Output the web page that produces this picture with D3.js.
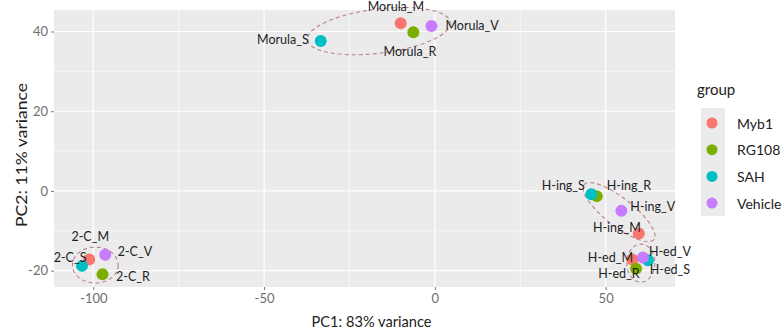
<!DOCTYPE html>
<html><head><meta charset="utf-8">
<script src="https://cdn.jsdelivr.net/npm/d3@7"></script>
<style>body{margin:0;background:#fff}svg{display:block}</style>
</head><body>
<svg id="c" width="782" height="335"></svg>
<script>
// ---- data ----
const groups = ["Myb1","RG108","SAH","Vehicle"];
const groupColors = ["#F8766D","#7CAE00","#00BFC4","#C77CFF"];
const sampleNames = ["Morula_M","Morula_R","Morula_S","Morula_V",
  "2-C_M","2-C_R","2-C_S","2-C_V",
  "H-ing_M","H-ing_R","H-ing_S","H-ing_V",
  "H-ed_M","H-ed_R","H-ed_S","H-ed_V"];
const sampleGroup = ["Myb1","RG108","SAH","Vehicle","Myb1","RG108","SAH","Vehicle",
  "Myb1","RG108","SAH","Vehicle","Myb1","RG108","SAH","Vehicle"];
const pc1 = [-10.0,-6.3,-33.4,-1.0, -101.2,-97.3,-103.3,-96.5, 59.7,47.4,45.8,54.6, 57.8,58.9,62.4,60.9];
const pc2 = [42.1,39.8,37.6,41.4, -17.2,-20.9,-18.8,-16.0, -10.7,-1.3,-0.8,-5.0, -17.2,-19.5,-17.4,-16.7];
// repelled label anchor positions (data units)
const labelPC1 = [-11.4,-7.3,-44.5,10.9, -100.9,-88.4,-106.8,-87.8, 53.3,56.8,37.6,63.8, 51.4,53.9,68.8,68.8];
const labelPC2 = [46.2,34.9,37.9,41.6, -11.5,-21.5,-16.6,-15.2, -9.1,1.3,1.3,-3.8, -16.6,-20.6,-19.8,-15.1];
// cluster ellipses: centre and conjugate semi-axis vectors (data units)
const ellipseNames = ["Morula","2-C","H-ing","H-ed"];
const ellipseCx = [-16.4,-99.4,53.9,60.3];
const ellipseCy = [40.1,-18.6,-5.3,-18.1];
const ellipseAx = [20.9,6.7,10.25,4.1];
const ellipseAy = [2.2,0,-6.87,0];
const ellipseBx = [0.8,0,-2.52,0];
const ellipseBy = [-5.5,-4.5,-2.76,-4.77];
const xTicks = [-100,-50,0,50];
const yTicks = [-20,0,20,40];
const xTitle = "PC1: 83% variance";
const yTitle = "PC2: 11% variance";
const legendTitle = "group";

// ---- layout ----
const svg = d3.select("#c");
const P = {l:54, r:675, t:10, b:287};
const x = d3.scaleLinear().domain([-111.5,70.3]).range([P.l,P.r]);
const y = d3.scaleLinear().domain([-24.1,45.4]).range([P.b,P.t]);
const color = d3.scaleOrdinal().domain(groups).range(groupColors);
const FONT = "Lato, 'Open Sans', sans-serif";

svg.append("rect").attr("x",P.l).attr("y",P.t).attr("width",P.r-P.l).attr("height",P.b-P.t).attr("fill","#EBEBEB");
const g = svg.append("g");
// minor grid
const xMinor = xTicks.slice(0,-1).map((d,i)=>(d+xTicks[i+1])/2);
const yMinor = yTicks.slice(0,-1).map((d,i)=>(d+yTicks[i+1])/2);
g.selectAll(".xm").data(xMinor).join("line").attr("x1",d=>x(d)).attr("x2",d=>x(d)).attr("y1",P.t).attr("y2",P.b).attr("stroke","#fff").attr("stroke-width",0.6);
g.selectAll(".ym").data(yMinor).join("line").attr("y1",d=>y(d)).attr("y2",d=>y(d)).attr("x1",P.l).attr("x2",P.r).attr("stroke","#fff").attr("stroke-width",0.6);
g.selectAll(".xg").data(xTicks).join("line").attr("x1",d=>x(d)).attr("x2",d=>x(d)).attr("y1",P.t).attr("y2",P.b).attr("stroke","#fff").attr("stroke-width",1.2);
g.selectAll(".yg").data(yTicks).join("line").attr("y1",d=>y(d)).attr("y2",d=>y(d)).attr("x1",P.l).attr("x2",P.r).attr("stroke","#fff").attr("stroke-width",1.2);

// axes
const xa = svg.append("g").attr("transform",`translate(0,${P.b})`).call(d3.axisBottom(x).tickValues(xTicks).tickSize(3).tickPadding(4).tickFormat(d3.format("d")));
const ya = svg.append("g").attr("transform",`translate(${P.l},0)`).call(d3.axisLeft(y).tickValues(yTicks).tickSize(3).tickPadding(3).tickFormat(d3.format("d")));
[xa,ya].forEach(a=>{a.select(".domain").remove();a.selectAll("line").attr("stroke","#7a7a7a");
  a.selectAll("text").attr("fill","#6e6e6e").attr("font-size",13).attr("font-family",FONT);});
xa.selectAll("text").text(d=>d<0?"-"+Math.abs(d):d);
ya.selectAll("text").text(d=>d<0?"-"+Math.abs(d):d);

// ellipses
const ts = d3.range(0,Math.PI*2+0.01,Math.PI/60);
ellipseNames.forEach((n,i)=>{
  const pts = ts.map(t=>[x(ellipseCx[i]+ellipseAx[i]*Math.cos(t)+ellipseBx[i]*Math.sin(t)),
                         y(ellipseCy[i]+ellipseAy[i]*Math.cos(t)+ellipseBy[i]*Math.sin(t))]);
  svg.append("path").attr("d",d3.line()(pts)+"Z").attr("fill","none").attr("stroke","#b9808c").attr("stroke-width",1.1).attr("stroke-dasharray","4,3");
});

// points
const idx = d3.range(sampleNames.length);
svg.selectAll(".pt").data(idx).join("circle").attr("cx",i=>x(pc1[i])).attr("cy",i=>y(pc2[i])).attr("r",6).attr("fill",i=>color(sampleGroup[i]));
// labels
svg.selectAll(".lb").data(idx).join("text").attr("x",i=>x(labelPC1[i])).attr("y",i=>y(labelPC2[i]))
  .attr("text-anchor","middle").attr("dominant-baseline","central").attr("font-family",FONT).attr("font-size",12.5).attr("fill","#1e1e1e").text(i=>sampleNames[i]);

// axis titles
svg.append("text").attr("x",(P.l+P.r)/2+7).attr("y",327).attr("text-anchor","middle").attr("font-family",FONT).attr("font-size",15).attr("fill","#222")
  .attr("textLength",120).attr("lengthAdjust","spacingAndGlyphs").text(xTitle);
svg.append("text").attr("transform","translate(27,155) rotate(-90)").attr("text-anchor","middle").attr("font-family",FONT).attr("font-size",15).attr("fill","#222")
  .attr("textLength",144).attr("lengthAdjust","spacingAndGlyphs").text(yTitle);

// legend
const L = svg.append("g");
L.append("text").attr("x",697).attr("y",95).attr("font-family",FONT).attr("font-size",15).attr("fill","#222").text(legendTitle);
L.append("rect").attr("x",701).attr("y",108).attr("width",24).attr("height",108).attr("fill","#EBEBEB");
L.selectAll(".lk").data(groups).join("circle").attr("cx",712).attr("cy",(d,i)=>123+i*26.7).attr("r",5.5).attr("fill",d=>color(d));
L.selectAll(".lt").data(groups).join("text").attr("x",737).attr("y",(d,i)=>123+i*26.7).attr("dominant-baseline","central")
  .attr("font-family",FONT).attr("font-size",14).attr("fill","#222").text(d=>d);
</script>
</body></html>
